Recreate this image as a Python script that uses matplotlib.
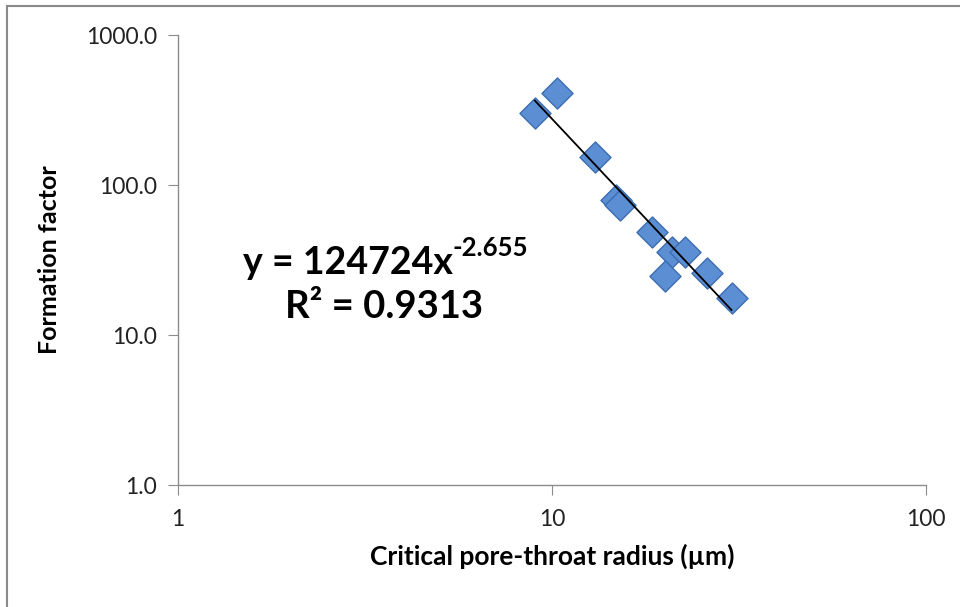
import matplotlib
matplotlib.use("Agg")
import matplotlib.pyplot as plt
import numpy as np
from matplotlib.patches import Rectangle

# Data
radius = [10.3, 9.0, 13.0, 14.8, 15.2, 18.5, 20.9, 22.7, 20.0, 25.9, 30.2]
formation = [408, 301, 154, 80, 74, 48.8, 35.9, 35.5, 24.7, 25.8, 17.6]

# Power-law trendline constants
coef_a = 124724
coef_b = -2.655
r2 = 0.9313

x_ticks = [1, 10, 100]
x_ticklabels = ["1", "10", "100"]
y_ticks = [1, 10, 100, 1000]
y_ticklabels = ["1.0", "10.0", "100.0", "1000.0"]

plt.rcParams['font.family'] = ['Lato', 'DejaVu Sans']

W, H = 960, 607
fig = plt.figure(figsize=(W / 100, H / 100), dpi=100)
ax = fig.add_axes([178 / W, 1 - 485 / H, (926 - 178) / W, (485 - 35) / H])

ax.set_xscale('log')
ax.set_yscale('log')
ax.set_xlim(1, 100)
ax.set_ylim(1, 1000)

ax.scatter(radius, formation, marker='D', s=250, c='#5B8ED3',
           edgecolors='#3D6DB0', linewidths=1.0, zorder=3)

xr = np.array(radius)
xs = np.linspace(xr.min(), xr.max(), 50)
ax.plot(xs, coef_a * xs ** coef_b, color='black', lw=1.3, zorder=4)

for s in ['top', 'right']:
    ax.spines[s].set_visible(False)
for s in ['left', 'bottom']:
    ax.spines[s].set_color('#8c8c8c')
    ax.spines[s].set_linewidth(1.0)

ax.set_xticks(x_ticks)
ax.set_xticklabels(x_ticklabels)
ax.set_yticks(y_ticks)
ax.set_yticklabels(y_ticklabels)
ax.minorticks_off()
ax.tick_params(axis='both', which='major', direction='out', length=7,
               color='#8c8c8c', labelsize=16.5, labelcolor='#222222')
ax.tick_params(axis='y', pad=8)
ax.tick_params(axis='x', pad=10)

ax.set_xlabel("Critical pore-throat radius (µm)", fontsize=19,
              fontweight='bold', labelpad=10)
ax.set_ylabel("Formation factor", fontsize=18, fontweight='bold', labelpad=18)

# Equation annotation
t1 = fig.text(243 / W, 1 - 274 / H, "y = %dx" % coef_a, fontsize=27,
              fontweight='bold', ha='left', va='baseline')
ax.annotate("%.3f" % coef_b, xy=(1, 0.6), xycoords=t1, fontsize=18.5,
            fontweight='bold', ha='left', va='bottom')
fig.text(384 / W, 1 - 318 / H, "R² = %.4f" % r2, fontsize=27.5,
         fontweight='bold', ha='center', va='baseline')

# Outer border
fig.patches.append(Rectangle((6.5 / W, -0.1), 1.2, 1.1 - 5.5 / H,
                             transform=fig.transFigure, fill=False,
                             edgecolor='#8a8a8a', lw=1.5))

fig.savefig("out.png", dpi=100)
